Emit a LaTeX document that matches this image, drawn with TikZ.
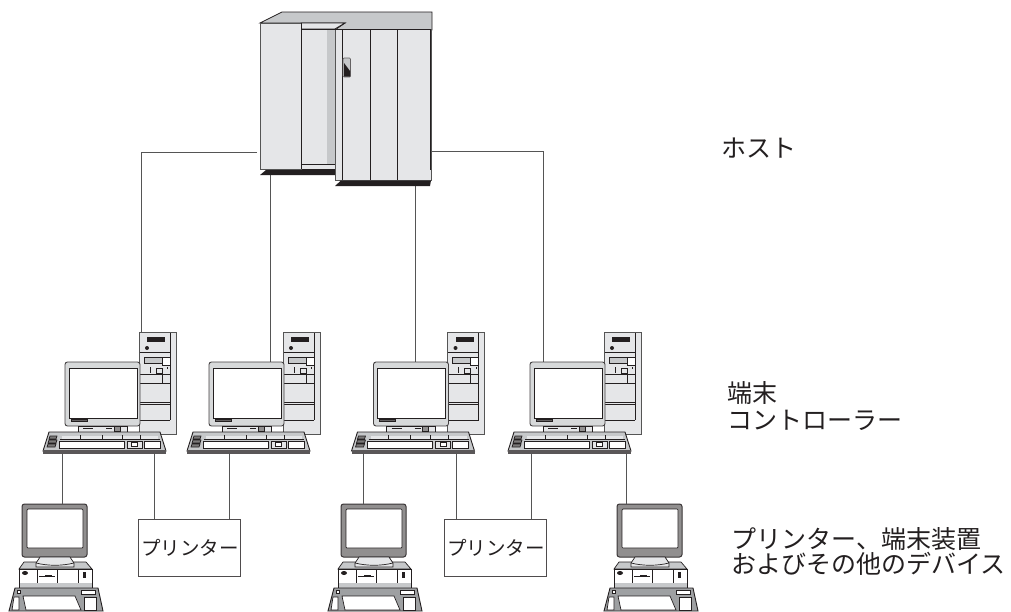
\documentclass[tikz,border=0pt]{standalone}
\usepackage{fontspec}
\setmainfont{Noto Sans CJK JP}
\definecolor{pale}{HTML}{E5E6E8}
\definecolor{mid}{HTML}{C6C8CA}
\definecolor{ink}{HTML}{231F20}
\definecolor{wire}{HTML}{555555}
\tikzset{
  x=1pt,y=-1pt,
  wireline/.style={draw=wire,line width=0.9pt},
  cab/.style={draw=ink,line width=0.9pt,fill=pale},
  thin part/.style={draw=ink,line width=0.7pt},
  label text/.style={anchor=west,align=left,inner sep=0pt,font=\fontsize{25}{25}\selectfont,text=ink},
  printerbox/.style={draw=ink!80,line width=0.8pt,fill=white,minimum width=102,minimum height=57,inner sep=0pt},
  printer text/.style={font=\fontsize{19.5}{20}\selectfont,text=ink,anchor=west,inner sep=0pt},
  workstation/.pic={
    % tower
    \fill[pale] (139,332) rectangle (176,434);
    \draw[wire,line width=0.8pt] (139,332) rectangle (176,434);
    \fill[ink] (147,337) rectangle (165,342);
    \fill[ink] (147,348) circle (2);
    \draw[thin part] (139.5,352)--(170,352) (139.5,374)--(170,374) (139.5,383)--(170,383)
      (139.5,402)--(170,402) (139.5,404)--(170,404) (139.5,420)--(170,420) (170,333)--(170,420);
    \draw[thin part,fill=mid] (144,357) rectangle (170,363);
    \draw[thin part,fill=white] (162,357) rectangle (170,365);
    \draw[thin part] (150,367)--(150,373) (162,374)--(162,383);
    \draw[thin part] (156,368) rectangle (162,373);
    \fill[ink] (167,367) rectangle (168,369);
    % monitor
    \draw[ink!85,line width=0.9pt,fill=mid!70,rounded corners=2.5] (65,362) rectangle (140,426);
    \draw[thin part,fill=white] (69,368) rectangle (137,418);
    \draw[thin part,fill=ink!70] (71,419.5) rectangle (87,421.5);
    \draw[thin part,fill=pale] (78,426) rectangle (127,432);
    \draw[thin part] (83,428) -- (93,428) (106,428)--(112,428);
    \draw[thin part,fill=ink!50] (114,426) rectangle (120,431);
    % keyboard
    \draw[ink,line width=0.9pt,fill=mid] (49,432)--(160,432)--(166,451)--(43,451)--cycle;
    \fill[ink!75] (43,450) rectangle (166,454);
    \fill[pale] (62,436) rectangle (158,439);
    \draw[thin part] (60,439)--(160,439) (80,435)--(80,439) (102,435)--(102,439) (122,435)--(122,439) (140,435)--(140,439);
    \draw[thin part,fill=white] (59,441) rectangle (124,448);
    \draw[thin part,fill=white] (144,441) rectangle (160,448);
    \draw[thin part,fill=pale] (127,441) rectangle (142,448);
    \draw[thin part,fill=white] (131.5,442.5) rectangle (137.5,446.5);
    \draw[thin part,fill=ink!60] (50,436)--(57,436)--(56,439)--(49,439)--cycle
      (49,440)--(57,440)--(56,443)--(48,443)--cycle (48,444)--(56,444)--(55,447)--(47,447)--cycle;
  },
  terminal/.pic={
    % monitor
    \draw[ink!90,line width=1pt,fill=ink!50,rounded corners=2.5] (22,504) rectangle (87,557);
    \draw[thin part,fill=white,rounded corners=1] (27,509) rectangle (83,548);
    % base unit
    \draw[thin part,fill=mid] (24,562)--(86,562)--(92,569)--(19,569)--cycle;
    \draw[thin part,fill=white] (19,569) rectangle (92,583);
    \fill[mid] (19.4,583) rectangle (91.6,588);
    \draw[thin part] (19,583)--(19,588) (92,583)--(92,588) (37,569)--(37,583) (57,569)--(57,583) (78,569)--(78,583);
    \fill[ink] (25,573) ellipse (3 and 2);
    \draw[ink,line width=0.7pt] (39,576)--(55,576);
    \fill[ink] (45,575) rectangle (52,577);
    \fill[ink] (83,572) rectangle (86,578);
    % stand
    \draw[thin part,fill=pale] (40,557)--(70,557)--(74,563)--(74,567)--(36,567)--(36,563)--cycle;
    \draw[thin part] (36,563) .. controls (48,566) and (62,566) .. (74,563);
    % keyboard
    \draw[ink,line width=0.9pt,fill=mid!80!black] (15,588)--(98,588)--(103,611)--(9,611)--cycle;
    \draw[thin part,fill=white] (23,596)--(75,596)--(81,610)--(26,610)--cycle;
    \draw[thin part,fill=white] (84,597) rectangle (96,610);
    \draw[thin part,fill=white] (14,597)--(19,597)--(19,610)--(12,610)--cycle;
    \draw[thin part,fill=white] (17,590.5) rectangle (20,593.5);
    \draw[thin part,fill=white] (81,590.5) rectangle (95,594);
  },
}
\begin{document}
\begin{tikzpicture}
\useasboundingbox[fill=white] (0,0) rectangle (1011,611);

% connection points
\coordinate (hostL) at (257,152);
\coordinate (hostLB) at (270,175);
\coordinate (hostRB) at (415,186);
\coordinate (hostR) at (432,151);
\coordinate (wsAin) at (141,362);
\coordinate (wsBin) at (270,363);
\coordinate (wsCin) at (415,363);
\coordinate (wsDin) at (543,363);
\coordinate (wsAdl) at (62,453);
\coordinate (wsAdr) at (154,453);
\coordinate (wsBd) at (229,453);
\coordinate (wsCdl) at (363,453);
\coordinate (wsCdr) at (456,453);
\coordinate (wsDdl) at (531,453);
\coordinate (wsDdr) at (626,453);
\coordinate (termAin) at (62,504);
\coordinate (termBin) at (363,504);
\coordinate (termCin) at (626,504);

% connectors
\draw[wireline] (hostL) -| (wsAin);
\draw[wireline] (hostLB) -- (wsBin);
\draw[wireline] (hostRB) -- (wsCin);
\draw[wireline] (hostR) -| (wsDin);

% host
\fill[mid,draw=ink,line width=0.7pt] (282,12)--(432,12)--(432,30)--(335,30)--(345,23)--(260,23)--cycle;
\draw[cab] (301,23)--(345,23)--(335,29)--(301,29)--cycle;
\draw[cab] (301,29) rectangle (335,169);
\fill[mid] (327,30) rectangle (334.5,164);
\draw[thin part] (301,164)--(335,164);
\draw[draw=wire,line width=0.9pt,fill=pale] (260,23) rectangle (301,169);
\draw[thin part] (301,23)--(301,169);
\fill[ink] (266,170)--(335,170)--(335,175)--(260,175)--cycle;
\draw[draw=wire,line width=0.8pt,fill=pale] (335,29) rectangle (431,180);
\draw[thin part] (335,29.5)--(431,29.5) (342,29)--(342,180) (370,29)--(370,180) (397,29)--(397,180);
\draw[ink,line width=1.2pt] (430.5,30)--(430.5,170);
\fill[ink] (341,180.5)--(431,180.5)--(430,186)--(335,186)--cycle;
\draw[ink!70,line width=0.7pt,fill=mid,rounded corners=1] (343,58) rectangle (350.5,77);
\fill[ink] (344,63)--(350,71)--(350,76.5)--(344,76.5)--cycle;

% workstations
\pic (wsA) at (0,0) {workstation};
\pic (wsB) at (144,0) {workstation};
\pic (wsC) at (308.5,0) {workstation};
\pic (wsD) at (465,0) {workstation};

% terminals
\pic (termA) at (0,0) {terminal};
\pic (termB) at (319,0) {terminal};
\pic (termC) at (595,0) {terminal};

% printers
\node[printerbox] (prA) at (189,547.5) {};
\node[printerbox] (prB) at (495,547.5) {};
\node[printer text] (prAt) at (141,548) {プリンター};
\node[printer text] (prBt) at (447,548) {プリンター};

% drops
\draw[wireline] (wsAdl) -- (termAin);
\draw[wireline] (wsAdr) -- (wsAdr |- prA.north);
\draw[wireline] (wsBd) -- (wsBd |- prA.north);
\draw[wireline] (wsCdl) -- (termBin);
\draw[wireline] (wsCdr) -- (wsCdr |- prB.north);
\draw[wireline] (wsDdl) -- (wsDdl |- prB.north);
\draw[wireline] (wsDdr) -- (termCin);

% tier labels
\node[label text] (lbHost) at (721,148.5) {ホスト};
\node[label text] (lbCtl) at (727,406) {端末\\[1.5pt]コントローラー};
\node[label text] (lbDev) at (731.5,551.5) {プリンター、端末装置\\およびその他のデバイス};
\end{tikzpicture}
\end{document}
